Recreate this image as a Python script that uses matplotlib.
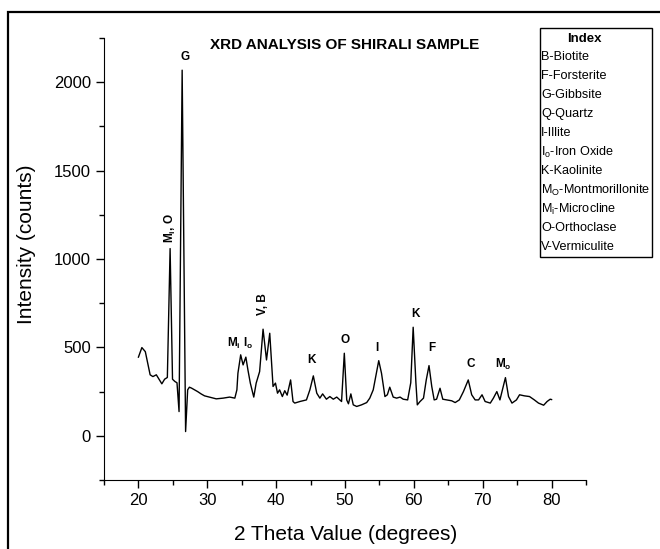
import numpy as np
import matplotlib
matplotlib.use('Agg')
import matplotlib.pyplot as plt
from matplotlib.patches import Rectangle

# XRD trace (2 theta in degrees, intensity in counts)
two_theta = [20.0, 20.5, 21.0, 21.3, 21.7, 22.1, 22.6, 23.05, 23.4, 23.8, 24.2, 24.6, 24.95,
             25.3, 25.6, 25.9, 26.35, 26.85, 27.15, 27.4, 27.7, 28.15, 28.6, 29.1, 29.6, 30.3,
             31.3, 32.3, 33.25, 34.0, 34.3, 34.45, 34.85, 35.2, 35.6, 35.9, 36.25, 36.75, 37.1,
             37.6, 38.1, 38.6, 39.07, 39.55, 39.9, 40.2, 40.5, 40.9, 41.25, 41.6, 42.1, 42.45,
             42.7, 43.45, 44.4, 44.9, 45.4, 45.9, 46.35, 46.75, 47.3, 47.8, 48.3, 48.8, 49.25,
             49.5, 49.9, 50.25, 50.5, 50.85, 51.2, 51.7, 52.4, 53.15, 53.6, 54.1, 54.6, 54.9,
             55.3, 55.8, 56.15, 56.5, 57.0, 57.5, 58.0, 58.45, 59.1, 59.55, 59.9, 60.3, 60.5,
             60.9, 61.4, 61.8, 62.2, 62.6, 62.95, 63.3, 63.8, 64.2, 64.8, 65.5, 66.0, 66.6,
             67.2, 67.9, 68.4, 68.9, 69.4, 69.9, 70.35, 71.1, 71.55, 72.05, 72.5, 73.3, 73.75,
             74.25, 74.9, 75.35, 76.05, 76.8, 77.5, 78.1, 78.85, 79.35, 79.8, 80.0]
counts = [445, 499, 476, 420, 345, 335, 345, 316, 294, 320, 330, 1059, 320,
          307, 300, 137, 2068, 24, 260, 275, 270, 260, 250, 237, 226, 219,
          209, 213, 219, 213, 260, 354, 458, 401, 445, 373, 298, 219, 298,
          363, 603, 429, 580, 279, 298, 241, 260, 222, 255, 230, 316, 194,
          185, 194, 203, 260, 339, 241, 213, 237, 207, 222, 207, 219, 203,
          194, 467, 203, 181, 237, 175, 166, 175, 188, 213, 260, 363, 425,
          354, 222, 232, 275, 219, 213, 219, 207, 203, 300, 614, 298, 175,
          194, 213, 316, 397, 279, 203, 207, 269, 207, 203, 198, 188, 203,
          250, 316, 232, 203, 203, 232, 194, 185, 213, 250, 203, 329, 222,
          185, 203, 232, 226, 222, 203, 185, 173, 194, 207, 205]

# peak labels
peak_labels = ['G', r'M$\mathregular{_i}$, O', r'M$\mathregular{_i}$', r'I$\mathregular{_o}$',
               'V, B', 'K', 'O', 'I', 'K', 'F', 'C', r'M$\mathregular{_o}$']
peak_x = [26.7, 24.6, 33.9, 35.9, 38.05, 45.2, 50.0, 54.6, 60.3, 62.65, 68.2, 73.0]
peak_y = [2143, 1175, 520, 520, 746, 426, 542, 497, 687, 495, 407, 401]
peak_rot = [0, 90, 0, 0, 90, 0, 0, 0, 0, 0, 0, 0]

index_entries = ['B-Biotite', 'F-Forsterite', 'G-Gibbsite', 'Q-Quartz', 'I-Illite',
                 r'I$\mathregular{_o}$-Iron Oxide', 'K-Kaolinite',
                 r'M$\mathregular{_O}$-Montmorillonite', r'M$\mathregular{_i}$-Microcline',
                 'O-Orthoclase', 'V-Vermiculite']

plt.rcParams['font.family'] = ['Liberation Sans', 'DejaVu Sans']
narrow = ['Liberation Sans Narrow', 'Liberation Sans', 'DejaVu Sans']

fig = plt.figure(figsize=(6.6, 5.49), dpi=100)
ax = fig.add_axes([104 / 660, 1 - 480 / 549, 482 / 660, 442 / 549])

ax.plot(two_theta, counts, color='black', lw=1.0)

ax.set_xlim(15, 85)
ax.set_ylim(-250, 2250)
ax.set_xticks(np.arange(20, 81, 10))
ax.set_xticks(np.arange(15, 86, 5), minor=True)
ax.set_yticks(np.arange(0, 2001, 500))
ax.set_yticks(np.arange(-250, 2251, 250), minor=True)
ax.tick_params(which='major', direction='out', length=6, width=1, labelsize=12)
ax.tick_params(which='minor', direction='out', length=3.5, width=1)
for s in ['top', 'right']:
    ax.spines[s].set_visible(False)

for t, x, y, r in zip(peak_labels, peak_x, peak_y, peak_rot):
    ax.text(x, y, t, ha='center', va='center', rotation=r, fontsize=8.5, fontweight='bold')

ax.text(0.5, 0.985, 'XRD ANALYSIS OF SHIRALI SAMPLE', transform=ax.transAxes,
        ha='center', va='center', fontsize=11, fontweight='bold', family=narrow)

fig.text(27 / 660, 1 - 244 / 549, 'Intensity (counts)', rotation=90,
         ha='center', va='center', fontsize=15)
fig.text(346 / 660, 1 - 535 / 549, '2 Theta Value (degrees)',
         ha='center', va='center', fontsize=15)

# index box
fig.add_artist(Rectangle((540 / 660, 1 - 257 / 549), 112 / 660, 229 / 549,
                         transform=fig.transFigure, fill=False, lw=1, ec='black'))
fig.text(584 / 660, 1 - 39 / 549, 'Index', ha='center', va='center',
         fontsize=9.5, fontweight='bold', family=narrow)
for i, e in enumerate(index_entries):
    fig.text(541 / 660, 1 - (57 + i * 19) / 549, e, ha='left', va='center',
             fontsize=9.1, family=narrow)

# outer frame
fig.add_artist(Rectangle((8 / 660, -0.1), 1.2, 1 - 12 / 549 + 0.1,
                         transform=fig.transFigure, fill=False, lw=1.6, ec='black'))

fig.savefig('out.png', dpi=100)
